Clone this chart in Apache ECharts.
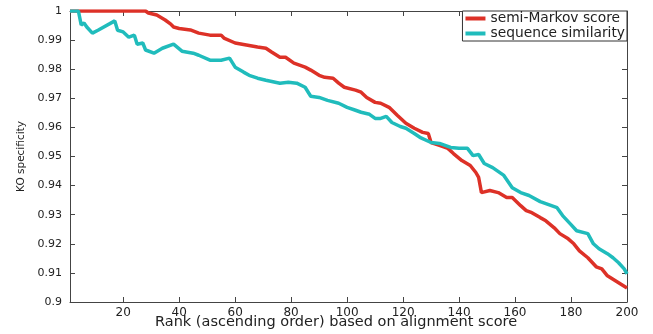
<!DOCTYPE html>
<html><head><meta charset="utf-8">
<script src="https://cdn.jsdelivr.net/npm/echarts@6/dist/echarts.min.js"></script>
<style>html,body{margin:0;padding:0;background:#fff}#c{width:653px;height:334px}</style>
</head><body><div id="c"></div>
<script>
const seriesNames = ['semi-Markov score', 'sequence similarity'];
const xTickValues = [20, 40, 60, 80, 100, 120, 140, 160, 180, 200];
const xTitle = 'Rank (ascending order) based on alignment score';
const yTitle = 'KO specificity';

const redRank = [1,28,29,32,35,37,38,40,44,47,51,55,56,60,64,68,71,73,76,78,81,85,87,90,92,95,97,99,103,105,107,110,112,115,118,121,124,127,129,130,133,136,138,141,144,146,147,148,151,154,157,159,162,164,166,169,171,174,176,179,181,183,186,189,191,193,196,200];
const redVal = [1,1,0.9993,0.9986,0.9969,0.9955,0.9945,0.9940,0.9935,0.9924,0.9917,0.9917,0.9907,0.9890,0.9883,0.9876,0.9872,0.9859,0.9841,0.9841,0.9821,0.9807,0.9797,0.9779,0.9772,0.9769,0.9752,0.9738,0.9728,0.9721,0.9703,0.9686,0.9683,0.9669,0.9641,0.9614,0.9597,0.9583,0.9579,0.9548,0.9538,0.9528,0.9510,0.9486,0.9469,0.9445,0.9428,0.9376,0.9383,0.9376,0.9359,0.9359,0.9331,0.9314,0.9307,0.9290,0.9279,0.9255,0.9235,0.9217,0.9200,0.9176,0.9152,0.9121,0.9114,0.9090,0.9072,0.9048];

const tealRank = [1,4,5,6,7,9,11,17,18,20,22,24,25,27,28,31,34,38,41,45,47,51,55,58,60,63,65,68,71,76,79,82,85,87,90,93,97,100,103,105,108,110,112,114,116,119,121,124,126,130,133,137,140,143,145,147,149,152,156,159,162,165,169,171,175,177,180,182,186,188,190,193,195,197,199,200];
const tealVal = [1,1,0.9952,0.9959,0.9945,0.9924,0.9934,0.9966,0.9934,0.9928,0.9910,0.9917,0.9886,0.9890,0.9866,0.9855,0.9872,0.9886,0.9862,0.9855,0.9848,0.9831,0.9831,0.9838,0.9807,0.9790,0.9779,0.9769,0.9762,0.9752,0.9755,0.9752,0.9738,0.9707,0.9703,0.9693,0.9683,0.9669,0.9659,0.9652,0.9645,0.9631,0.9631,0.9638,0.9617,0.9603,0.9597,0.9579,0.9566,0.9548,0.9545,0.9531,0.9528,0.9528,0.9503,0.9507,0.9476,0.9462,0.9435,0.9393,0.9376,0.9366,0.9345,0.9338,0.9324,0.9297,0.9266,0.9245,0.9235,0.9200,0.9183,0.9166,0.9152,0.9135,0.9114,0.9097];

const colors = ['#dd3127', '#20bcbc'];
const font = 'DejaVu Sans';
const axisCol = '#444';

function pairs(xs, ys) { return xs.map((x, i) => [x, ys[i]]); }

const chart = echarts.init(document.getElementById('c'), null, {renderer: 'canvas'});
const baseX = {
  type: 'value', min: 1, max: 200,
  axisLine: {show: true, lineStyle: {color: axisCol, width: 1}},
  axisTick: {show: true, inside: true, length: 5, customValues: xTickValues, lineStyle: {color: axisCol}},
  splitLine: {show: false}
};
const baseY = {
  type: 'value', min: 0.9, max: 1, interval: 0.01,
  axisLine: {show: true, lineStyle: {color: axisCol, width: 1}},
  axisTick: {show: true, inside: true, length: 5, lineStyle: {color: axisCol}},
  splitLine: {show: false}
};
chart.setOption({
  animation: false,
  backgroundColor: '#fff',
  title: {
    text: xTitle, left: 155, top: 315, padding: 0,
    textStyle: {fontFamily: font, fontSize: 14.5, fontWeight: 'normal', color: '#222'}
  },
  grid: {left: 70, right: 26, top: 11, bottom: 32, containLabel: false},
  legend: {
    right: 26, top: 11, orient: 'vertical', icon: 'rect',
    itemWidth: 20, itemHeight: 4, itemGap: 0,
    padding: [0, 2, 0, 3],
    borderColor: '#333', borderWidth: 1, backgroundColor: '#fff',
    textStyle: {fontFamily: font, fontSize: 13.8, color: '#222', lineHeight: 15},
    data: seriesNames
  },
  xAxis: [
    Object.assign({}, baseX, {position: 'bottom',
      axisLabel: {show: true, customValues: xTickValues, margin: 5, fontFamily: font, fontSize: 12, color: '#222'}}),
    Object.assign({}, baseX, {position: 'top', axisLabel: {show: false}})
  ],
  yAxis: [
    Object.assign({}, baseY, {position: 'left',
      name: yTitle, nameLocation: 'middle', nameGap: 35,
      nameTextStyle: {fontFamily: font, fontSize: 10.5, color: '#222'},
      axisLabel: {show: true, margin: 8, fontFamily: font, fontSize: 11, color: '#222',
        formatter: v => String(Math.round(v * 100) / 100)}}),
    Object.assign({}, baseY, {position: 'right', axisLabel: {show: false}})
  ],
  series: [
    {name: seriesNames[0], type: 'line', xAxisIndex: 0, yAxisIndex: 0, symbol: 'none',
     data: pairs(redRank, redVal), color: colors[0],
     lineStyle: {color: colors[0], width: 3.5}, itemStyle: {color: colors[0]}},
    {name: seriesNames[1], type: 'line', xAxisIndex: 0, yAxisIndex: 0, symbol: 'none',
     data: pairs(tealRank, tealVal), color: colors[1],
     lineStyle: {color: colors[1], width: 3.5}, itemStyle: {color: colors[1]}}
  ]
});
</script>
</body></html>
